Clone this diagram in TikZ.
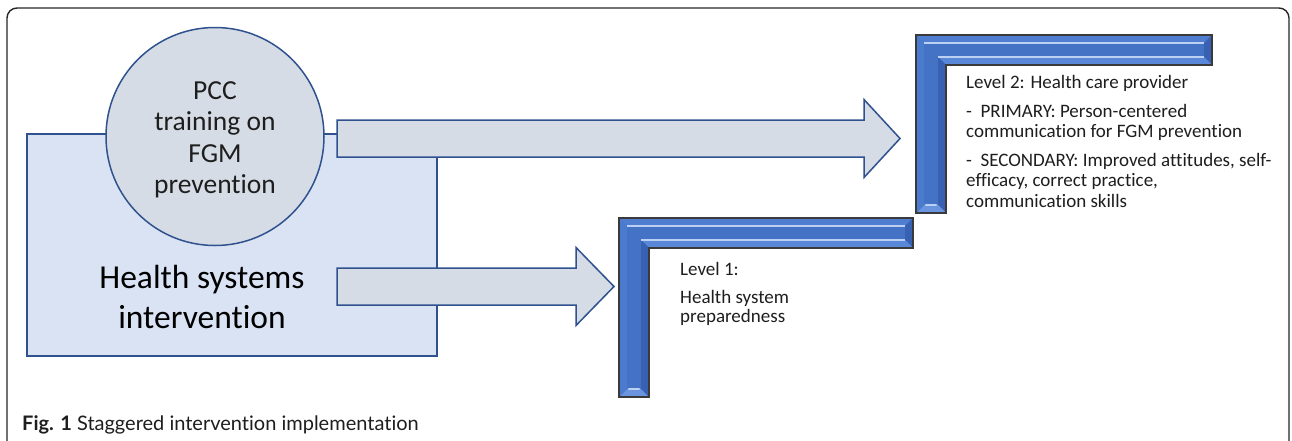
\documentclass[tikz,border=0pt]{standalone}
\usepackage{fontspec}
\setmainfont{Carlito}[Ligatures={NoCommon}]
\newfontfamily\capfont{Lato}[Ligatures={NoCommon}]
\usetikzlibrary{calc}
\definecolor{rectfill}{HTML}{DAE3F3}
\definecolor{shapefill}{HTML}{D6DCE5}
\definecolor{edgeblue}{HTML}{2F528F}
\definecolor{lblue}{HTML}{4472C4}
\definecolor{ltop}{HTML}{4F7ED0}
\definecolor{ldark}{HTML}{3861B3}
\definecolor{lface}{HTML}{5A88D8}
\definecolor{lbot}{HTML}{6A94DE}
\definecolor{lleft}{HTML}{4B7BCF}
\definecolor{lhigh}{HTML}{BCD0F4}
\definecolor{lborder}{HTML}{3A3A3A}
\definecolor{txt}{HTML}{1E1E1E}
\tikzset{
  framebox/.style={draw=black!85, line width=1.4pt, rounded corners=10pt},
  hsboxstyle/.style={draw=edgeblue, fill=rectfill, line width=1.5pt, rectangle, inner sep=0pt},
  pccstyle/.style={draw=edgeblue, fill=shapefill, line width=1.5pt, circle, inner sep=0pt, minimum size=218pt},
  blockarrow/.style={draw=edgeblue, fill=shapefill, line width=1.5pt, line join=miter},
  pcctext/.style={font=\fontsize{27.5}{31}\selectfont, text=txt, inner sep=0pt, anchor=base},
  hstext/.style={font=\fontsize{33.5}{40}\selectfont, text=black, inner sep=0pt, anchor=base},
  lvltext/.style={font=\fontsize{19}{20}\selectfont, text=txt, inner sep=0pt, anchor=base west},
  captext/.style={font=\capfont\fontsize{20}{24}\selectfont, text=txt, inner sep=0pt, anchor=base west},
}
% bevelled L-shaped bracket: name, x0, y0, width, height, thickness
\newcommand\bevelL[6]{%
  \coordinate (#1-a) at (#2,#3);
  \coordinate (#1-b) at ({#2+#4},#3);
  \coordinate (#1-c) at ({#2+#4},{#3+#6});
  \coordinate (#1-d) at ({#2+#6},{#3+#6});
  \coordinate (#1-e) at ({#2+#6},{#3+#5});
  \coordinate (#1-f) at (#2,{#3+#5});
  \coordinate (#1-ai) at ({#2+8},{#3+8});
  \coordinate (#1-bi) at ({#2+#4-8},{#3+8});
  \coordinate (#1-ci) at ({#2+#4-8},{#3+#6-8});
  \coordinate (#1-di) at ({#2+#6-8},{#3+#6-8});
  \coordinate (#1-ei) at ({#2+#6-8},{#3+#5-8});
  \coordinate (#1-fi) at ({#2+8},{#3+#5-8});
  \fill[lblue] (#1-a)--(#1-b)--(#1-c)--(#1-d)--(#1-e)--(#1-f)--cycle;
  \fill[ltop] (#1-a)--(#1-b)--(#1-bi)--(#1-ai)--cycle;
  \fill[ldark] (#1-b)--(#1-c)--(#1-ci)--(#1-bi)--cycle;
  \fill[lface] (#1-c)--(#1-d)--(#1-di)--(#1-ci)--cycle;
  \fill[ldark] (#1-d)--(#1-e)--(#1-ei)--(#1-di)--cycle;
  \fill[lbot] (#1-e)--(#1-f)--(#1-fi)--(#1-ei)--cycle;
  \fill[lleft] (#1-f)--(#1-a)--(#1-ai)--(#1-fi)--cycle;
  \draw[lhigh, line width=2.6pt] (#1-ai)--(#1-bi);
  \draw[lhigh, line width=2.6pt] (#1-di)--(#1-ci);
  \draw[lhigh, line width=2.6pt, line cap=round] ($(#1-fi)+(2,0)$)--($(#1-ei)+(-2,0)$);
  \draw[lborder, line width=1.5pt, line join=miter] (#1-a)--(#1-b)--(#1-c)--(#1-d)--(#1-e)--(#1-f)--cycle;
}
% block arrow: name, x left, x head base, x tip, y centre
\newcommand\blockarr[5]{%
  \coordinate (#1-start) at (#2,#5);
  \coordinate (#1-tip) at (#4,#5);
  \draw[blockarrow] (#2,{#5-18.5}) -- (#3,{#5-18.5}) -- (#3,{#5-39}) -- (#1-tip)
     -- (#3,{#5+39}) -- (#3,{#5+18.5}) -- (#2,{#5+18.5}) -- cycle;
}
\begin{document}
\begin{tikzpicture}[x=1pt,y=-1pt]
\useasboundingbox (0,0) rectangle (1292,440);
\fill[white] (0,0) rectangle (1292,440);
\draw[framebox] (7,8) rectangle (1289,452);

% left block
\node[hsboxstyle, anchor=north west, minimum width=410pt, minimum height=222pt] (hsbox) at (26,133) {};
\node[pccstyle] (pcc) at (215,136.5) {};
\node[pcctext] (pcc1) at (215,99) {PCC};
\node[pcctext] (pcc2) at (215,130.5) {training on};
\node[pcctext] (pcc3) at (215,162) {FGM};
\node[pcctext] (pcc4) at (215,193) {prevention};
\node[hstext] (hs1) at (202,288) {Health systems};
\node[hstext] (hs2) at (202,328) {intervention};

% arrows
\blockarr{arrtop}{337}{864}{900}{138.5}
\blockarr{arrbot}{337}{576}{614}{286.5}

% levels
\bevelL{lvA}{619}{218}{294}{179}{30}
\bevelL{lvB}{916}{35}{296}{178}{30}

\node[lvltext] (l1a) at (680,275) {Level 1:};
\node[lvltext] (l1b) at (680,303) {Health system};
\node[lvltext] (l1c) at (680,322.5) {preparedness};

\node[lvltext] (l2a) at (966,88.5) {Level 2: Health care provider};
\node[lvltext] (l2b) at (966,117) {-\ \ PRIMARY: Person-centered};
\node[lvltext] (l2c) at (966,137) {communication for FGM prevention};
\node[lvltext] (l2d) at (966,166) {-\ \ SECONDARY: Improved attitudes, self-};
\node[lvltext] (l2e) at (966,186.5) {efficacy, correct practice,};
\node[lvltext] (l2f) at (966,207) {communication skills};

% caption
\node[captext] (cap) at (22,430) {\textbf{Fig. 1} Staggered intervention implementation};
\end{tikzpicture}
\end{document}
